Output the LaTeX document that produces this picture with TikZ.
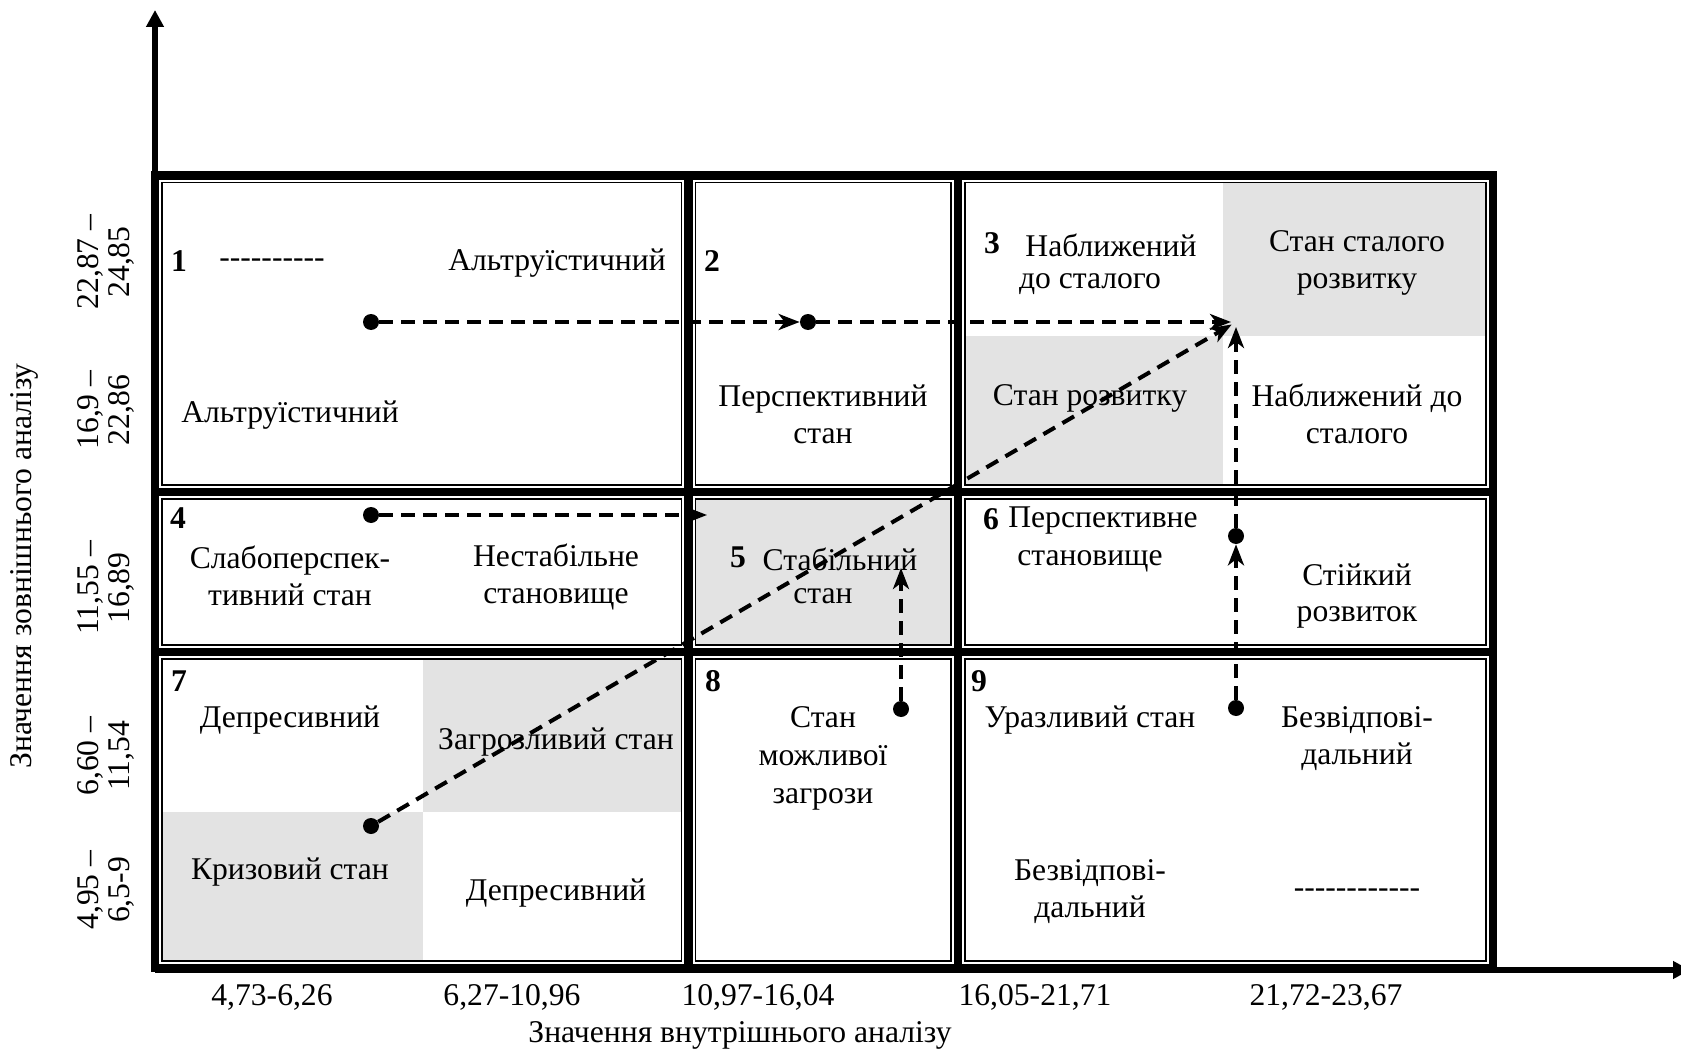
\documentclass[tikz,border=0pt]{standalone}
\usepackage{fontspec}
\setmainfont{Liberation Serif}
\usetikzlibrary{arrows.meta}
\definecolor{StateGray}{HTML}{E3E3E3}

% a row of plain hyphens (no -- ligature)
\newcommand\gapline[1]{\foreach \k in {1,...,#1}{\mbox{-}}}

\begin{document}
\begin{tikzpicture}[x=0.02cm,y=-0.02cm,
    axis/.style={line width=3.4pt,-{Triangle[length=0.34cm,width=0.34cm]}},
    border/.style={line width=4.8pt},
    inner/.style={line width=0.85pt},
    shade/.style={fill=StateGray},
    move/.style={line width=2.3pt,dash pattern=on 0.27cm off 0.17cm,
      -{Stealth[length=0.42cm,width=0.32cm,inset=0.12cm]}},
    dot/.style={circle,fill,inner sep=0pt,minimum size=0.32cm},
    state/.style={font=\fontsize{18}{21}\selectfont,align=center,inner sep=0pt},
    num/.style={font=\fontsize{18}{21}\selectfont\bfseries,inner sep=0pt},
    scalebox/.style={font=\fontsize{18}{17.5}\selectfont,align=center,inner sep=0pt,rotate=90}
  ]
  \path[use as bounding box] (0,0) rectangle (1681,1051);

  % shaded sub-cells
  \fill[shade] (1223,182.5) rectangle (1486,336);
  \fill[shade] (965,336) rectangle (1223,485);
  \fill[shade] (695.5,499) rectangle (951,645);
  \fill[shade] (423,659) rectangle (681.5,812);
  \fill[shade] (162,812) rectangle (423,961);

  % thin inner lines of the nine cells
  \draw[inner] (162,182.5) rectangle (681.5,485);
  \draw[inner] (695.5,182.5) rectangle (951,485);
  \draw[inner] (965,182.5) rectangle (1486,485);
  \draw[inner] (162,499) rectangle (681.5,645);
  \draw[inner] (695.5,499) rectangle (951,645);
  \draw[inner] (965,499) rectangle (1486,645);
  \draw[inner] (162,659) rectangle (681.5,961);
  \draw[inner] (695.5,659) rectangle (951,961);
  \draw[inner] (965,659) rectangle (1486,961);

  % heavy grid
  \draw[border] (155,175.5) rectangle (1493,968);
  \draw[border] (688.5,175.5) -- (688.5,968);
  \draw[border] (958,175.5) -- (958,968);
  \draw[border] (155,492) -- (1493,492);
  \draw[border] (155,652) -- (1493,652);

  % axes
  \coordinate (o) at (155,968);
  \coordinate (ytop) at (155,10);
  \coordinate (xo) at (155,970);
  \coordinate (xend) at (1690,970);
  \draw[axis] (o) -- (ytop);
  \draw[axis] (xo) -- (xend);

  % row 1
  \node[num] (n1) at (179,261) {1};
  \node[state] (c1a) at (272,263) {\gapline{10}};
  \node[state] (c1b) at (557,263) {Альтруїстичний};
  \node[state] (c1c) at (290,415) {Альтруїстичний};
  \node[num] (n2) at (712,261) {2};
  \node[state] (c2a) at (823,414) {Перспективний\\стан};
  \node[num] (n3) at (992,243) {3};
  \node[state] (c3a) at (1111,245) {Наближений};
  \node[state] (c3b) at (1090,284) {до сталого};
  \node[state] (c3c) at (1357,263) {Стан сталого\\розвитку};
  \node[state] (c3d) at (1090,398) {Стан розвитку};
  \node[state] (c3e) at (1357,414) {Наближений до\\сталого};

  % row 2
  \node[num] (n4) at (178,518) {4};
  \node[state] (c4a) at (290,576) {Слабоперспек-\\тивний стан};
  \node[state] (c4b) at (556,577) {Нестабільне\\становище};
  \node[num] (n5) at (738,557) {5};
  \node[state] (c5a) at (840,559) {Стабільний};
  \node[state] (c5b) at (823,596) {стан};
  \node[num] (n6) at (991,519) {6};
  \node[state] (c6a) at (1103,521) {Перспективне};
  \node[state] (c6b) at (1090,561) {становище};
  \node[state] (c6c) at (1357,596) {Стійкий\\розвиток};

  % row 3
  \node[num] (n7) at (179,681) {7};
  \node[state] (c7a) at (290,720) {Депресивний};
  \node[state] (c7b) at (556,742) {Загрозливий стан};
  \node[state] (c7c) at (290,872) {Кризовий стан};
  \node[state] (c7d) at (556,893) {Депресивний};
  \node[num] (n8) at (713,681) {8};
  \node[state,font=\fontsize{18}{21.6}\selectfont] (c8a) at (823,758) {Стан\\можливої\\загрози};
  \node[num] (n9) at (979,681) {9};
  \node[state] (c9a) at (1090,720) {Уразливий стан};
  \node[state] (c9b) at (1357,739) {Безвідпові-\\дальний};
  \node[state] (c9c) at (1090,892) {Безвідпові-\\дальний};
  \node[state] (c9d) at (1357,893) {\gapline{12}};

  % scales
  \node[state] (x1) at (272,997) {4,73-6,26};
  \node[state] (x2) at (512,997) {6,27-10,96};
  \node[state] (x3) at (758,997) {10,97-16,04};
  \node[state] (x4) at (1035,997) {16,05-21,71};
  \node[state] (x5) at (1326,997) {21,72-23,67};
  \node[state] (xt) at (740,1035) {Значення внутрішнього аналізу};
  \node[scalebox] (y1) at (106,262) {22,87 --\\24,85};
  \node[scalebox] (y2) at (106,410) {16,9 --\\22,86};
  \node[scalebox] (y3) at (106,588) {11,55 --\\16,89};
  \node[scalebox] (y4) at (106,756) {6,60 --\\11,54};
  \node[scalebox] (y5) at (106,890) {4,95 --\\6,5-9};
  \node[state,rotate=90] (yt) at (24,566) {Значення зовнішнього аналізу};

  % moves between states
  \node[dot] (d1) at (371,322) {};
  \node[dot] (d2) at (808,322) {};
  \node[dot] (d4) at (371,515) {};
  \node[dot] (d7) at (371,826) {};
  \node[dot] (d8) at (901,709) {};
  \node[dot] (d9) at (1236,708) {};
  \node[dot] (d6) at (1236,536) {};
  \coordinate (goal) at (1236,322);
  \coordinate (t5) at (707,515);
  \coordinate (t5b) at (901,568);

  \draw[move] (d1) -- (d2);
  \draw[move,shorten >=0.1cm] (d2) -- (goal);
  \draw[move,shorten >=0.1cm] (d7) -- (goal);
  \draw[move] (d4) -- (t5);
  \draw[move] (d8) -- (t5b);
  \draw[move] (d9) -- (d6);
  \draw[move,shorten >=0.1cm] (d6) -- (goal);
\end{tikzpicture}
\end{document}
